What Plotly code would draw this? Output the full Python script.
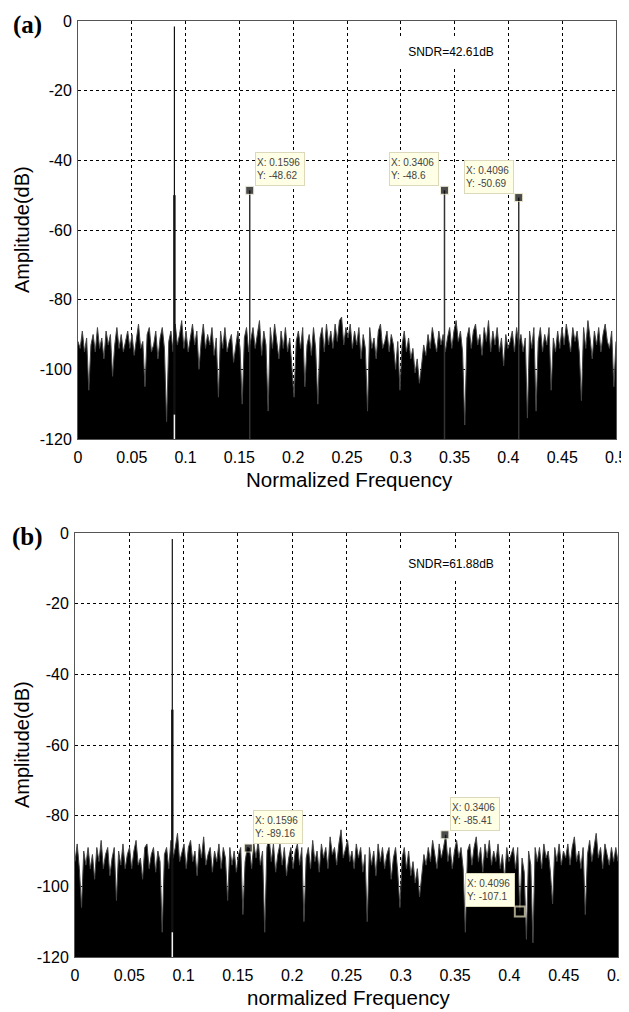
import numpy as np
import plotly.graph_objects as go

# ---------------- data ----------------
noise_a = [
    -92, -94, -89, -95, -91, -106, -93, -90, -95, -88, -94, -91, -97, -89, -93, -90, -102, -93, -88, -94, -90, -95, -92, -89, -94,
    -90, -96, -91, -87, -94, -92, -105, -90, -88, -95, -93, -89, -97, -91, -88, -94, -115, -92, -89, -95, -87, -93, -90, -86, -94,
    -89, -95, -91, -87, -93, -89, -100, -92, -87, -94, -90, -93, -88, -96, -91, -108, -89, -94, -88, -95, -92, -90, -98, -93, -89,
    -94, -110, -91, -88, -95, -92, -88, -94, -90, -86, -96, -89, -93, -112, -88, -94, -87, -92, -97, -89, -94, -88, -95, -91, -101,
    -108, -92, -89, -94, -88, -105, -93, -90, -96, -88, -94, -110, -91, -88, -95, -87, -93, -89, -94, -87, -92, -86, -85, -93, -88,
    -91, -87, -94, -89, -93, -88, -97, -90, -94, -112, -88, -94, -91, -97, -89, -87, -94, -92, -89, -95, -90, -93, -100, -92, -106,
    -93, -89, -95, -91, -97, -94, -101, -97, -104, -99, -93, -96, -90, -94, -88, -92, -95, -89, -93, -90, -95, -91, -88, -94, -89,
    -86, -92, -89, -95, -116, -91, -88, -94, -89, -87, -93, -90, -96, -88, -92, -86, -95, -89, -93, -88, -95, -91, -99, -90, -94,
    -92, -89, -95, -88, -93, -90, -95, -91, -114, -89, -94, -88, -112, -92, -88, -95, -90, -93, -88, -106, -91, -95, -89, -94, -88,
    -93, -87, -91, -95, -88, -92, -89, -95, -109, -88, -94, -86, -91, -97, -89, -93, -88, -95, -90, -87, -92, -94, -89, -105, -92,
]
noise_b = [
    -93, -88, -95, -106, -90, -94, -89, -95, -91, -98, -89, -93, -87, -95, -91, -89, -97, -92, -89, -104, -90, -94, -88, -95, -91,
    -89, -95, -90, -87, -94, -92, -98, -89, -88, -95, -91, -89, -96, -90, -93, -113, -91, -89, -95, -87, -92, -89, -85, -93, -90,
    -88, -95, -89, -87, -93, -90, -97, -88, -92, -86, -94, -91, -89, -96, -90, -93, -88, -95, -89, -92, -104, -89, -94, -90, -96,
    -91, -89, -108, -93, -89, -89.16, -95, -88, -92, -87, -94, -90, -113, -89, -86, -93, -88, -96, -91, -88, -94, -89, -97, -92, -89,
    -95, -90, -88, -94, -89, -110, -92, -89, -95, -87, -93, -90, -96, -88, -92, -89, -95, -86, -91, -89, -94, -88, -84, -92, -89,
    -87, -93, -90, -95, -88, -92, -89, -96, -91, -110, -89, -94, -90, -97, -88, -93, -89, -95, -91, -89, -98, -92, -89, -96, -106,
    -92, -89, -95, -90, -97, -93, -99, -95, -103, -96, -91, -94, -89, -93, -87, -91, -95, -88, -92, -89, -85.41, -93, -89, -95, -90,
    -87, -92, -89, -95, -113, -90, -88, -94, -89, -86, -93, -89, -96, -88, -92, -87, -94, -90, -93, -88, -95, -91, -98, -89, -93,
    -91, -89, -95, -89, -107.1, -92, -96, -115, -90, -94, -116, -89, -93, -89, -95, -88, -92, -90, -96, -105, -89, -93, -88, -94, -90,
    -92, -88, -94, -89, -86, -93, -90, -95, -89, -108, -91, -87, -93, -89, -85, -92, -89, -95, -88, -91, -94, -89, -93, -89, -93,
]

tone_freq = 0.0896
tone_peak = [-1.6, -1.7]
tone_skirt = -50
notch_top = -113

harm_x = [0.1596, 0.3406, 0.4096]
harm_y_a = [-48.62, -48.6, -50.69]
harm_y_b = [-89.16, -85.41, -107.1]
harm_lbl_y_a = ["-48.62", "-48.6", "-50.69"]
harm_lbl_y_b = ["-89.16", "-85.41", "-107.1"]
tip_side_a = ["right", "left", "left"]
tip_side_b = ["right", "right", "left"]

sndr_text = ["SNDR=42.61dB", "SNDR=61.88dB"]
panel_labels = ["(a)", "(b)"]
x_titles = ["Normalized Frequency", "normalized Frequency"]
y_title = "Amplitude(dB)"

x_ticks = [0, 0.05, 0.1, 0.15, 0.2, 0.25, 0.3, 0.35, 0.4, 0.45, 0.5]
x_tick_text = ["0", "0.05", "0.1", "0.15", "0.2", "0.25", "0.3", "0.35", "0.4", "0.45", "0.5"]
y_ticks = [-120, -100, -80, -60, -40, -20, 0]
y_tick_text = ["-120", "-100", "-80", "-60", "-40", "-20", "0"]
y_floor = -120

# ---------------- figure ----------------
# the page body adds an 8 px margin, so the figure is drawn offset by 8 px
OFF = 8
W, H = 629 - OFF, 1012 - OFF
FONT = "Arial, Liberation Sans, sans-serif"


def px(xp):
    return (xp - OFF) / W


def py(yp):
    return 1 - (yp - OFF) / H


fig = go.Figure()

# screen-pixel geometry of the two plot areas
boxes = [(78, 616, 21, 439), (75, 618, 533, 957)]
title_y = [479, 997]

panels = [
    (noise_a, harm_y_a, harm_lbl_y_a, tip_side_a, "x", "y"),
    (noise_b, harm_y_b, harm_lbl_y_b, tip_side_b, "x2", "y2"),
]

for p, (noise, hy, hlbl, sides, xa, ya) in enumerate(panels):
    n = len(noise)
    freq = np.linspace(0, 0.5, n)
    fig.add_trace(go.Scatter(x=freq, y=[y_floor] * n, mode="lines",
                             line=dict(width=0, color="black"), xaxis=xa, yaxis=ya,
                             showlegend=False, hoverinfo="skip"))
    fig.add_trace(go.Scatter(x=freq, y=noise, mode="lines", fill="tonexty",
                             fillcolor="black", line=dict(width=1, color="#444444"),
                             xaxis=xa, yaxis=ya, showlegend=False, hoverinfo="skip"))
    # fundamental tone
    fig.add_trace(go.Scatter(x=[tone_freq, tone_freq], y=[y_floor, tone_peak[p]], mode="lines",
                             line=dict(width=1.2, color="#111111"), xaxis=xa, yaxis=ya,
                             showlegend=False, hoverinfo="skip"))
    fig.add_trace(go.Scatter(x=[tone_freq, tone_freq], y=[y_floor, tone_skirt], mode="lines",
                             line=dict(width=2.4, color="#111111"), xaxis=xa, yaxis=ya,
                             showlegend=False, hoverinfo="skip"))
    fig.add_trace(go.Scatter(x=[tone_freq, tone_freq], y=[y_floor, notch_top], mode="lines",
                             line=dict(width=1.5, color="#f2f2f2"), xaxis=xa, yaxis=ya,
                             showlegend=False, hoverinfo="skip"))
    # harmonic lines (panel a stands above the noise)
    if p == 0:
        for hx_, hy_ in zip(harm_x, hy):
            fig.add_trace(go.Scatter(x=[hx_, hx_], y=[y_floor, hy_], mode="lines",
                                     line=dict(width=1.5, color="#333333"), xaxis=xa, yaxis=ya,
                                     showlegend=False, hoverinfo="skip"))
    # data-tip markers
    lines = ["#e8e4c8", "#e8e4c8", "#ece6c0"]
    lw = [1, 1, 2] if p == 1 else [1, 1, 1]
    sz = [8, 8, 10] if p == 1 else [8, 8, 8]
    fig.add_trace(go.Scatter(x=harm_x, y=hy, mode="markers",
                             marker=dict(symbol="square", size=sz, color="black",
                                         line=dict(color=lines, width=lw)),
                             xaxis=xa, yaxis=ya, showlegend=False, hoverinfo="skip"))
    # data tips
    for hx_, hy_, lbl, side in zip(harm_x, hy, hlbl, sides):
        fig.add_annotation(x=hx_, y=hy_, xref=xa, yref=ya, showarrow=False,
                           text=f"X: {hx_}<br>Y: {lbl}", align="left",
                           xanchor="left" if side == "right" else "right",
                           yanchor="bottom",
                           xshift=5 if side == "right" else -5, yshift=4,
                           font=dict(family=FONT, size=10, color="#444444"),
                           bgcolor="#ffffe6", bordercolor="#dcd8bc", borderwidth=1,
                           borderpad=1, width=46, height=30)
    # SNDR text
    l, r, t, b = boxes[p]
    cx = (l + r) / 2 + 104
    cy = t + 31
    fig.add_annotation(x=(cx - l) / (r - l) * 0.5, y=-(cy - t) / (b - t) * 120,
                       xref=xa, yref=ya, showarrow=False, text=sndr_text[p],
                       font=dict(family=FONT, size=12, color="black"),
                       bgcolor="white", width=108, height=26)
    # panel label
    fig.add_annotation(x=px(27), y=py(t + 4), xref="paper", yref="paper",
                       showarrow=False, text=f"<b>{panel_labels[p]}</b>",
                       font=dict(family="Times New Roman, Liberation Serif, serif", size=25, color="black"),
                       xanchor="center", yanchor="middle")
    # axis titles
    fig.add_annotation(x=px(22), y=py((t + b) / 2), xref="paper", yref="paper",
                       showarrow=False, text=y_title, textangle=-90,
                       font=dict(family=FONT, size=20, color="black"),
                       xanchor="center", yanchor="middle")
    fig.add_annotation(x=px(349), y=py(title_y[p]), xref="paper", yref="paper",
                       showarrow=False, text=x_titles[p],
                       font=dict(family=FONT, size=20.5, color="black"),
                       xanchor="center", yanchor="middle")

axis_common = dict(showline=True, mirror=True, linecolor="#555555", linewidth=1,
                   showgrid=True, gridcolor="black", griddash="dot", gridwidth=1,
                   zeroline=False, ticks="", automargin=False, ticklabeloverflow="allow",
                   tickfont=dict(family=FONT, size=16, color="black"))

for p, (xa_name, ya_name, xa_ref, ya_ref) in enumerate([("xaxis", "yaxis", "y", "x"),
                                                        ("xaxis2", "yaxis2", "y2", "x2")]):
    l, r, t, b = boxes[p]
    fig.update_layout(**{
        xa_name: dict(axis_common, domain=[px(l), px(r)], anchor=xa_ref, range=[0, 0.5],
                      tickvals=x_ticks, ticktext=x_tick_text, ticklabelstandoff=4),
        ya_name: dict(axis_common, domain=[py(b), py(t)], anchor=ya_ref, range=[-120, 0],
                      tickvals=y_ticks, ticktext=y_tick_text, ticklabelstandoff=2),
    })

fig.update_layout(width=W, height=H, margin=dict(l=0, r=0, t=0, b=0, autoexpand=False),
                  paper_bgcolor="white", plot_bgcolor="white", showlegend=False)

fig.write_html("out.html")
